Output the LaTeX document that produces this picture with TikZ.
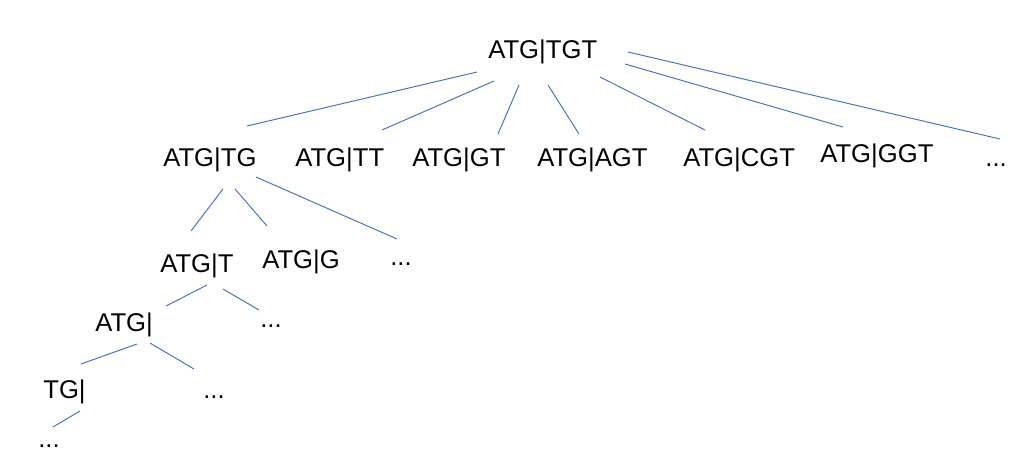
\documentclass[tikz,border=0pt]{standalone}
\usepackage{fontspec}
\setmainfont{Liberation Sans}
\usetikzlibrary{positioning}
\definecolor{linkblue}{RGB}{68,114,196}

\begin{document}
\begin{tikzpicture}[
    x=0.02cm, y=-0.02cm,
    seq/.style={font=\fontsize{14.6}{17}\selectfont, inner sep=0pt, anchor=base west},
    link/.style={draw=linkblue, line width=0.55pt},
  ]
  \useasboundingbox (0,0) rectangle (1020,474);

  % ========= ROOT =========
  \node[seq] (root) at (488,58) {ATG|TGT};

  % ========= LEVEL 1 =========
  \node[seq] (tg)  at (163,166) {ATG|TG};
  \node[seq] (tt)  at (295,166) {ATG|TT};
  \node[seq] (gt)  at (412,166) {ATG|GT};
  \node[seq] (agt) at (537,166) {ATG|AGT};
  \node[seq] (cgt) at (683,166) {ATG|CGT};
  \node[seq] (ggt) at (820,162) {ATG|GGT};
  \node[seq] (dotsA) at (985,166) {...};

  % ========= LEVEL 2 =========
  \node[seq] (t)     at (160,272) {ATG|T};
  \node[seq] (g)     at (262,268) {ATG|G};
  \node[seq] (dotsB) at (390,265) {...};

  % ========= LEVEL 3 =========
  \node[seq] (atg)   at (95,331) {ATG|};
  \node[seq] (dotsC) at (260,327) {...};

  % ========= LEVEL 4 =========
  \node[seq] (tgbar) at (43,398) {TG|};
  \node[seq] (dotsD) at (203,398) {...};

  % ========= LEVEL 5 =========
  \node[seq] (dotsE) at (38,447) {...};

  % Links from root
  \draw[link] ([shift={(-11,14)}]root.base west) -- ([shift={(84,-40)}]tg.base west);
  \draw[link] ([shift={(6,23)}]root.base west)   -- ([shift={(87,-36)}]tt.base west);
  \draw[link] ([shift={(31,27)}]root.base west)  -- ([shift={(86,-32)}]gt.base west);
  \draw[link] ([shift={(60,27)}]root.base west)  -- ([shift={(42,-32)}]agt.base west);
  \draw[link] ([shift={(112,19)}]root.base west) -- ([shift={(22,-36)}]cgt.base west);
  \draw[link] ([shift={(137,6)}]root.base west)  -- ([shift={(23,-35)}]ggt.base west);
  \draw[link] ([shift={(140,-6)}]root.base west) -- ([shift={(15,-27)}]dotsA.base west);

  % Links from ATG|TG
  \draw[link] ([shift={(60,23)}]tg.base west) -- ([shift={(31,-41)}]t.base west);
  \draw[link] ([shift={(72,23)}]tg.base west) -- ([shift={(5,-42)}]g.base west);
  \draw[link] ([shift={(93,11)}]tg.base west) -- ([shift={(7,-26)}]dotsB.base west);

  % Links from ATG|T
  \draw[link] ([shift={(47,13)}]t.base west) -- ([shift={(71,-25)}]atg.base west);
  \draw[link] ([shift={(63,17)}]t.base west) -- ([shift={(-1,-17)}]dotsC.base west);

  % Links from ATG|
  \draw[link] ([shift={(42,13)}]atg.base west) -- ([shift={(38,-34)}]tgbar.base west);
  \draw[link] ([shift={(55,12)}]atg.base west) -- ([shift={(-9,-29)}]dotsD.base west);

  % Link from TG|
  \draw[link] ([shift={(37,13)}]tgbar.base west) -- ([shift={(15,-20)}]dotsE.base west);
\end{tikzpicture}
\end{document}
